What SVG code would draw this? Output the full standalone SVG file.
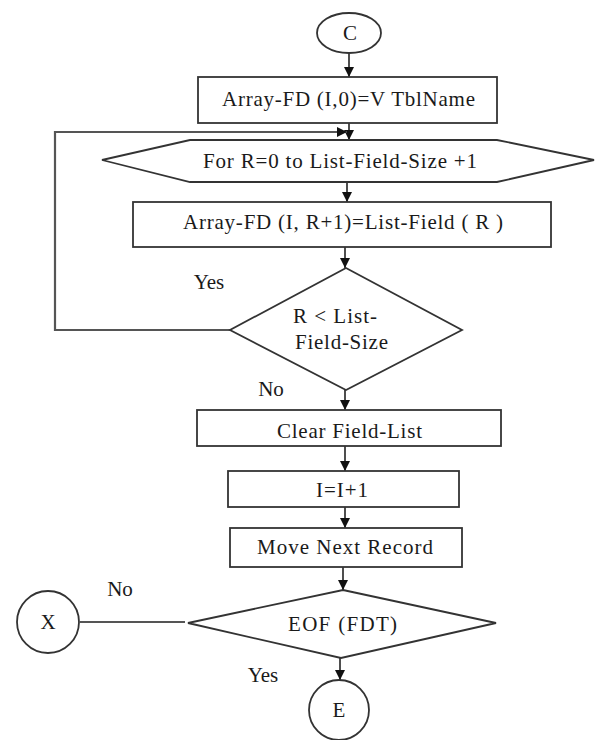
<svg xmlns="http://www.w3.org/2000/svg" width="600" height="740" viewBox="0 0 600 740">
<style>
.s{fill:#fff;stroke:#333;stroke-width:1.8}
.t{font-family:"Liberation Serif","Times New Roman",serif;font-size:21px;fill:#1a1a1a;text-anchor:middle}
.c{fill:none;stroke:#222;stroke-width:1.6}
.g{fill:none;stroke:#555;stroke-width:2.2}
</style>
<defs>
<marker id="ah" viewBox="0 0 10 10" refX="10" refY="5" markerWidth="10" markerHeight="10" markerUnits="userSpaceOnUse" orient="auto">
<path d="M0,0 L10,5 L0,10 z" fill="#111"/>
</marker>
</defs>
<rect width="600" height="740" fill="#fff"/>
<g id="connectors">
<line class="c" x1="349" y1="53" x2="349" y2="77" marker-end="url(#ah)"/>
<line class="c" x1="349" y1="123" x2="349" y2="140" marker-end="url(#ah)"/>
<polyline class="g" points="230,330 55,330 55,132 347,132" marker-end="url(#ah)"/>
<line class="c" x1="347" y1="182" x2="347" y2="202" marker-end="url(#ah)"/>
<line class="c" x1="345" y1="247" x2="345" y2="268" marker-end="url(#ah)"/>
<line class="c" x1="345" y1="390" x2="345" y2="410" marker-end="url(#ah)"/>
<line class="c" x1="345" y1="446" x2="345" y2="471" marker-end="url(#ah)"/>
<line class="c" x1="345" y1="507" x2="345" y2="528" marker-end="url(#ah)"/>
<line class="c" x1="343" y1="567" x2="343" y2="590" marker-end="url(#ah)"/>
<line class="g" x1="80" y1="622" x2="185" y2="622"/>
<line class="c" x1="340" y1="658" x2="340" y2="680" marker-end="url(#ah)"/>
</g>
<g id="nodeC">
<ellipse class="s" cx="349" cy="33" rx="32" ry="20"/>
<text class="t" x="350" y="40">C</text>
</g>
<g id="box1">
<rect class="s" x="198" y="77" width="299" height="46"/>
<text class="t" x="348.5" y="106" textLength="253" lengthAdjust="spacing">Array-FD (I,0)=V TblName</text>
</g>
<g id="loop">
<polygon class="s" points="102,160 190,140 497,140 594,160 497,182 190,182"/>
<text class="t" x="340" y="168" textLength="274" lengthAdjust="spacing">For R=0 to List-Field-Size +1</text>
</g>
<g id="box2">
<rect class="s" x="133" y="202" width="418" height="45"/>
<text class="t" x="343" y="229" textLength="320" lengthAdjust="spacing">Array-FD (I, R+1)=List-Field ( R )</text>
</g>
<g id="dec1">
<polygon class="s" points="346,268 462,330 346,390 230,330"/>
<text class="t" x="335" y="323" textLength="84" lengthAdjust="spacing">R &lt; List-</text>
<text class="t" x="341.5" y="349" textLength="93" lengthAdjust="spacing">Field-Size</text>
</g>
<g id="labels">
<text class="t" x="209" y="289">Yes</text>
<text class="t" x="271" y="396">No</text>
<text class="t" x="120" y="596">No</text>
<text class="t" x="263" y="682">Yes</text>
</g>
<g id="box3">
<rect class="s" x="197" y="410" width="304" height="36"/>
<text class="t" x="349.5" y="438" textLength="145" lengthAdjust="spacing">Clear Field-List</text>
</g>
<g id="box4">
<rect class="s" x="228" y="471" width="231" height="36"/>
<text class="t" x="342" y="497" textLength="52" lengthAdjust="spacing">I=I+1</text>
</g>
<g id="box5">
<rect class="s" x="230" y="528" width="232" height="39"/>
<text class="t" x="345" y="554" textLength="176" lengthAdjust="spacing">Move Next Record</text>
</g>
<g id="dec2">
<polygon class="s" points="343,590 496,623 341,658 188,623"/>
<text class="t" x="342.5" y="631" textLength="109" lengthAdjust="spacing">EOF (FDT)</text>
</g>
<g id="nodeX">
<circle class="s" cx="48" cy="622" r="31"/>
<text class="t" x="48" y="629">X</text>
</g>
<g id="nodeE">
<circle class="s" cx="339" cy="710" r="30"/>
<text class="t" x="339" y="717">E</text>
</g>
</svg>
